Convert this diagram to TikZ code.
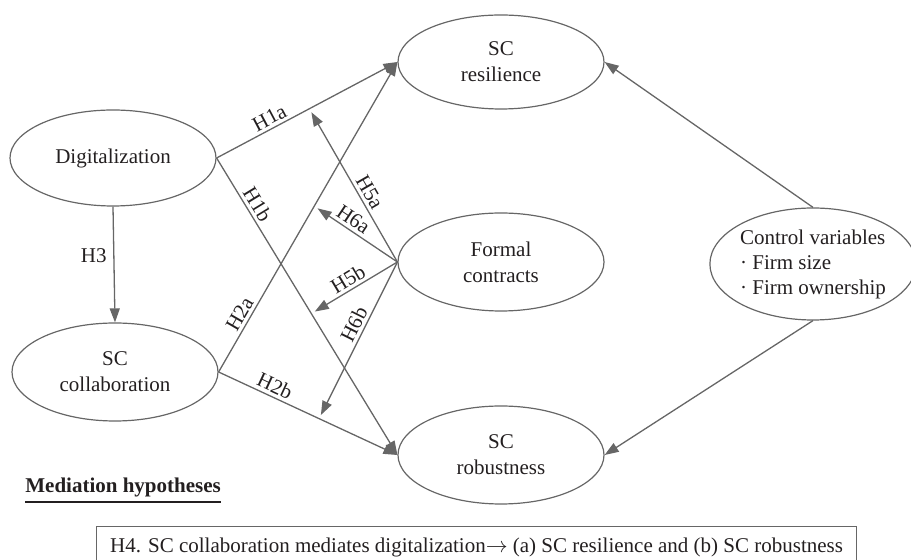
\documentclass[tikz,border=0pt]{standalone}
\usepackage{fontspec}
\setmainfont{Liberation Serif}
\usetikzlibrary{shapes.geometric,arrows.meta}

\definecolor{linegray}{HTML}{666666}
\definecolor{inkgray}{HTML}{231F20}

\tikzset{
  var/.style={ellipse, draw=linegray, line width=0.6pt, inner sep=0pt,
    minimum width=103pt, minimum height=48pt, align=center, text=inkgray},
  link/.style={draw=linegray, line width=0.65pt, -{Triangle[length=7pt,width=5pt]}},
  hyp/.style={sloped, above, text=inkgray, inner sep=1.5pt},
}

\begin{document}
\begin{tikzpicture}[x=0.5pt, y=-0.5pt, font=\fontsize{10.5}{13}\selectfont]
\useasboundingbox (0,0) rectangle (911,560);

% constructs
\node[var] (dig) at (113,158) {Digitalization};
\node[var, minimum height=49pt] (coll) at (115,372) {SC\\collaboration};
\node[var, minimum height=47pt] (res) at (501,62) {SC\\resilience};
\node[var, minimum height=49pt] (con) at (501,262) {Formal\\contracts};
\node[var, minimum height=49pt] (rob) at (501,455) {SC\\robustness};
\node[var, align=left, minimum width=99pt, minimum height=56pt,
  font=\fontsize{10.5}{12.5}\selectfont] (ctrl) at (813,264)
  {Control variables\\\textperiodcentered\ Firm size\\\textperiodcentered\ Firm ownership};

% direct effects
\draw[link] (dig.east) -- node[hyp, pos=0.32] {H1a} (res.west);
\draw[link] (dig.east) -- node[hyp, pos=0.175] {H1b} (rob.west);
\draw[link] (coll.east) -- node[hyp, pos=0.17] {H2a} (res.west);
\draw[link] (coll.east) -- node[hyp, pos=0.29] {H2b} (rob.west);
\draw[link] (dig.south) -- node[left, pos=0.42, text=inkgray] {H3} (coll.north);

% points on the paths that the contracts act on
\path (dig.east) -- coordinate[pos=0.513] (m5a) (res.west);
\path (coll.east) -- coordinate[pos=0.535] (m6a) (res.west);
\path (dig.east) -- coordinate[pos=0.524] (m5b) (rob.west);
\path (coll.east) -- coordinate[pos=0.562] (m6b) (rob.west);

% moderation
\draw[link, shorten >=2pt] (con.west) -- node[hyp, pos=0.42] {H5a} (m5a);
\draw[link, shorten >=2pt] (con.west) -- node[hyp, pos=0.6] {H6a} (m6a);
\draw[link, shorten >=2pt] (con.west) -- node[hyp, pos=0.51] {H5b} (m5b);
\draw[link, shorten >=2pt] (con.west) -- node[hyp, pos=0.43] {H6b} (m6b);

% controls
\draw[link] (ctrl.north) -- (res.east);
\draw[link] (ctrl.south) -- (rob.east);

% mediation
\node[font=\fontsize{10.5}{13}\bfseries\selectfont, text=inkgray, anchor=base west,
  inner sep=0pt] (medtitle) at (25,493) {Mediation hypotheses};
\draw[line width=1pt, inkgray] ([yshift=-4.5pt]medtitle.base west)
  -- ([yshift=-4.5pt]medtitle.base east);

\node[draw=linegray, line width=0.6pt, anchor=north west, text=inkgray,
  minimum width=380pt, inner xsep=3pt, inner ysep=5pt, text height=8pt,
  text depth=12pt] (h4) at (96,526)
  {H4. SC collaboration mediates digitalization$\rightarrow$ (a) SC resilience and (b) SC robustness};
\end{tikzpicture}
\end{document}
